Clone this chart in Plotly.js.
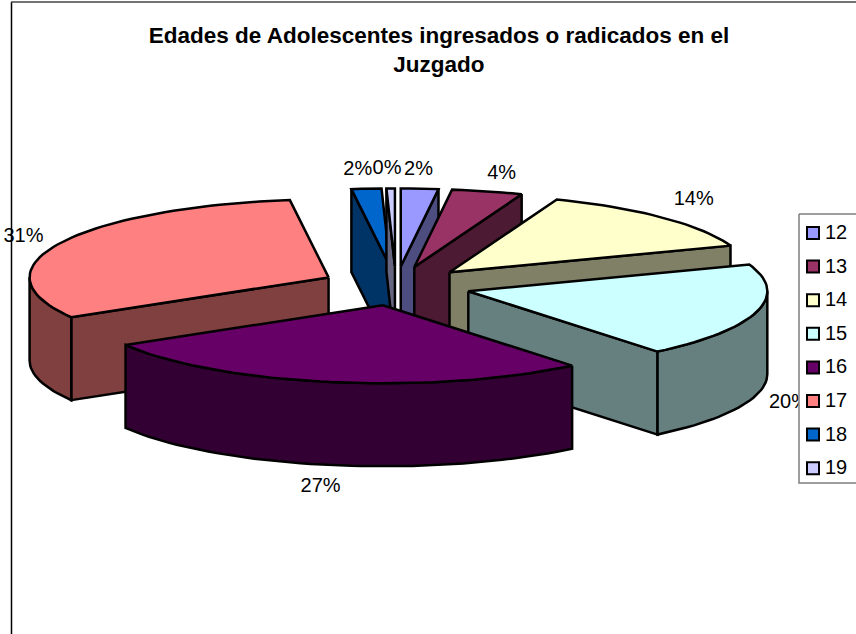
<!DOCTYPE html>
<html><head><meta charset="utf-8">
<script src="https://cdn.plot.ly/plotly-3.0.1.min.js"></script>
<style>html,body{margin:0;padding:0;background:#fff}#c{width:856px;height:634px}</style>
</head><body><div id="c"></div>
<script>
const ages = ['12','13','14','15','16','17','18','19'];
const shares = [2.0, 3.8, 13.5, 19.5, 27.2, 31.2, 1.6, 0.45];
const topColors = ['#9999FF','#993366','#FFFFCC','#CCFFFF','#660066','#FF8080','#0066CC','#CCCCFF'];
const wallColors = ['#4D4D80','#4D1A33','#808066','#668080','#330033','#804040','#003366','#666680'];
const titleText = 'Edades de Adolescentes ingresados o radicados en el<br>Juzgado';

// Layout constants of the tilted pie (in page pixels, used as axis units)
const cx = 396, cy = 286, rx = 299, ry = 78, pull = 75, depth = 83;
const paintOrder = [6,7,0,1,2,5,3,4];
const labelRadius = 420;
const labelNudgeX = [-4,3,-2,-12,-2,5,-5,-3];
const labelNudgeY = [2,3,-3,5,10,3,2,2];

const total = shares.reduce((a,b)=>a+b,0);
const rad = d => d*Math.PI/180;
let acc = 0;
const slices = shares.map((v,i)=>{
  const a0 = acc/total*360; acc += v; const a1 = acc/total*360;
  const m = (a0+a1)/2;
  const tx = cx + pull*Math.sin(rad(m));
  const ty = cy - pull*(ry/rx)*Math.cos(rad(m));
  return {i,a0,a1,m,tx,ty};
});
const rim = (s,a)=>[s.tx+rx*Math.sin(rad(a)), s.ty-ry*Math.cos(rad(a))];
const arc = (s,a,b)=>{const n=Math.max(2,Math.ceil((b-a)/2)),o=[];for(let k=0;k<=n;k++)o.push(rim(s,a+(b-a)*k/n));return o;};
const poly = (pts,color)=>({
  type:'scatter',mode:'lines',x:[...pts.map(p=>p[0]),pts[0][0]],y:[...pts.map(p=>p[1]),pts[0][1]],
  fill:'toself',fillcolor:color,line:{color:'#000',width:2.5,shape:'linear'},hoverinfo:'skip',showlegend:false
});
const traces = [];
paintOrder.forEach(i=>{
  const s = slices[i], w = wallColors[i];
  const radial = a=>{const r=rim(s,a);return poly([[s.tx,s.ty],r,[r[0],r[1]+depth],[s.tx,s.ty+depth]],w);};
  if (Math.sin(rad(s.a0))<0) traces.push(radial(s.a0));
  if (Math.sin(rad(s.a1))>0) traces.push(radial(s.a1));
  const f0=Math.max(s.a0,90), f1=Math.min(s.a1,270);
  if (f1>f0){const t=arc(s,f0,f1);traces.push(poly([...t,...t.slice().reverse().map(p=>[p[0],p[1]+depth])],w));}
  traces.push(poly([[s.tx,s.ty],...arc(s,s.a0,s.a1)],topColors[i]));
});
// percentage labels
traces.push({
  type:'scatter',mode:'text',cliponaxis:false,hoverinfo:'skip',showlegend:false,
  x:slices.map(s=>cx+labelRadius*Math.sin(rad(s.m))+labelNudgeX[s.i]),
  y:slices.map(s=>{const c=Math.cos(rad(s.m));return cy-labelRadius*(ry/rx)*c+(c<0?depth:-9*c)+labelNudgeY[s.i];}),
  text:shares.map(v=>Math.round(v/total*100)+'%'),
  textposition:'middle center',textfont:{family:'Liberation Sans',size:20,color:'#000'}
});
// legend box and entries
const lgL=799,lgR=858,lgT=214,lgB=483,rowH=33.6,rowY0=233,swX=813,txtX=825;
traces.push({type:'scatter',mode:'lines',x:[lgL,lgR,lgR,lgL,lgL],y:[lgT,lgT,lgB,lgB,lgT],fill:'toself',fillcolor:'#fff',
  line:{color:'#7f7f7f',width:1.5},hoverinfo:'skip',showlegend:false});
traces.push({type:'scatter',mode:'markers',x:ages.map(()=>swX),y:ages.map((_,i)=>rowY0+i*rowH),
  marker:{symbol:'square',size:12,color:topColors,line:{color:'#000',width:2}},hoverinfo:'skip',showlegend:false});
traces.push({type:'scatter',mode:'text',cliponaxis:false,x:ages.map(()=>txtX),y:ages.map((_,i)=>rowY0+1+i*rowH),text:ages,
  textposition:'middle right',textfont:{family:'Liberation Sans',size:20,color:'#000'},hoverinfo:'skip',showlegend:false});

const hidden = r=>({range:r,visible:false,fixedrange:true});
Plotly.newPlot('c',traces,{
  width:856,height:634,margin:{l:0,r:0,t:0,b:0},paper_bgcolor:'#fff',plot_bgcolor:'#fff',showlegend:false,
  xaxis:hidden([0,856]),yaxis:hidden([634,0]),
  title:{text:titleText,x:439/856,xanchor:'center',y:1-43/634,yanchor:'top',
    font:{family:'Liberation Sans',size:22.5,color:'#000',weight:'bold'}},
  shapes:[
    {type:'line',xref:'x',yref:'y',x0:11.5,x1:11.5,y0:2,y1:634,line:{color:'#000',width:1.5},layer:'below'},
    {type:'line',xref:'x',yref:'y',x0:11,x1:856,y0:2,y1:2,line:{color:'#444',width:1.5},layer:'below'}
  ]
},{displayModeBar:false,staticPlot:true});
</script></body></html>
